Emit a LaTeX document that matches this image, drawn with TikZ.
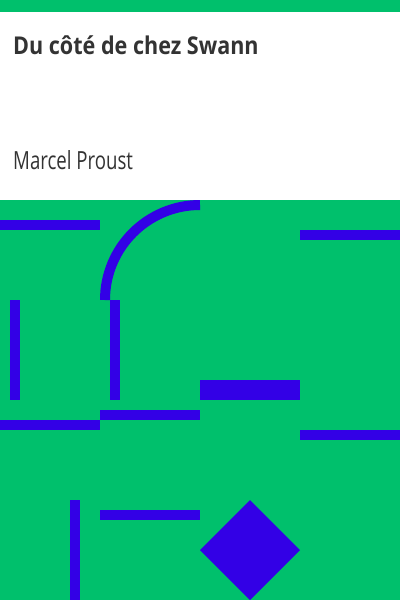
\documentclass[tikz,border=0pt]{standalone}
\usepackage{fontspec}
\usepackage{xcolor}
\newfontfamily\titlefont[FakeStretch=0.88]{Open Sans}
\newfontfamily\authorfont[FakeStretch=0.745]{Open Sans}
\definecolor{covergreen}{RGB}{0,192,108}
\definecolor{coverblue}{RGB}{51,0,230}
\definecolor{covertext}{RGB}{51,51,51}
\tikzset{
    bar/.style={fill=coverblue},
    arcline/.style={draw=coverblue, line width=10pt},
}

\begin{document}
\begin{tikzpicture}[x=1pt,y=-1pt]
    \useasboundingbox (0,0) rectangle (400,600);
    \fill[covergreen] (0,0) rectangle (400,600);
    \fill[white] (0,12) rectangle (400,200);

    \node[anchor=base west, inner sep=0pt, text=covertext,
          font=\titlefont\bfseries\fontsize{24.5}{28}\selectfont] (title) at (13,54) {Du côté de chez Swann};
    \node[anchor=base west, inner sep=0pt, text=covertext,
          font=\authorfont\fontsize{25}{30}\selectfont] (author) at (13,169) {Marcel Proust};

    % left column
    \fill[bar] (0,220) rectangle (100,230);
    \fill[bar] (10,300) rectangle (20,400);
    \fill[bar] (0,420) rectangle (100,430);
    \fill[bar] (70,500) rectangle (80,600);

    % middle
    \draw[arcline] (105,300) .. controls (105,247.53) and (147.53,205) .. (200,205);
    \fill[bar] (110,300) rectangle (120,400);
    \fill[bar] (100,410) rectangle (200,420);
    \fill[bar] (100,510) rectangle (200,520);
    \fill[bar] (200,380) rectangle (300,400);
    \fill[bar] (200,550) -- (250,500) -- (300,550) -- (250,600) -- cycle;

    % right column
    \fill[bar] (300,230) rectangle (400,240);
    \fill[bar] (300,430) rectangle (400,440);
\end{tikzpicture}
\end{document}
